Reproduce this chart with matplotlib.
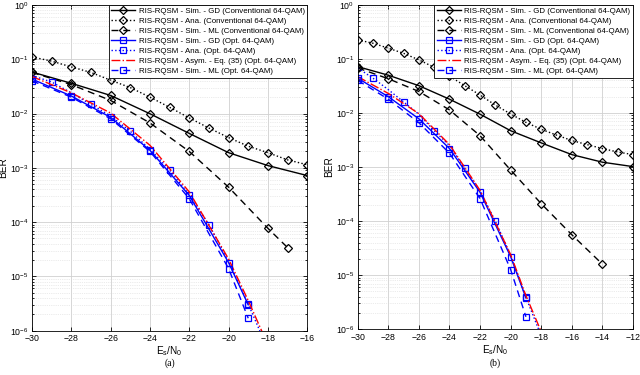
import numpy as np
import matplotlib
matplotlib.use("Agg")
from matplotlib import pyplot as plt
from matplotlib.ticker import NullFormatter, FixedLocator, LogFormatterSciNotation

# ---- data: panel (a) ----
a_x_even = [-30, -28, -26, -24, -22, -20, -18, -16]
a_conv_gd = [0.058, 0.036, 0.0215, 0.0099, 0.0043, 0.0019, 0.0011, 0.00072]
a_conv_ana_x = [-30, -29, -28, -27, -26, -25, -24, -23, -22, -21, -20, -19, -18, -17, -16]
a_conv_ana = [0.11, 0.092, 0.072, 0.057, 0.041, 0.030, 0.020, 0.013, 0.0083, 0.0054,
              0.0036, 0.0025, 0.0019, 0.0014, 0.00114]
a_conv_ml_x = [-30, -28, -26, -24, -22, -20, -18, -17]
a_conv_ml = [0.057, 0.034, 0.0174, 0.0067, 0.0020, 0.00044, 7.7e-5, 3.4e-5]

a_opt_x = [-30, -28, -26, -24, -22, -20, -19]
a_opt_gd = [0.043, 0.021, 0.0085, 0.0021, 3.1e-4, 1.8e-5, 3.0e-6]
a_opt_ml = [0.040, 0.020, 0.0080, 0.0020, 2.7e-4, 1.4e-5, 1.7e-6]
a_ana_x = [-30, -29, -28, -27, -26, -25, -24, -23, -22, -21, -20, -19, -18]
a_opt_ana = [0.050, 0.038, 0.024, 0.0147, 0.0090, 0.0047, 0.0022, 0.00091, 3.2e-4,
             9.0e-5, 1.9e-5, 3.1e-6, 4.5e-7]
a_asym_x = [-30, -28, -26, -24, -22, -20, -19, -18]
a_asym = [0.048, 0.024, 0.0102, 0.0026, 3.6e-4, 2.1e-5, 3.6e-6, 5.5e-7]

# ---- panel (b) ----
b_x_even = [-30, -28, -26, -24, -22, -20, -18, -16, -14, -12]
b_conv_gd = [0.072, 0.050, 0.032, 0.018, 0.0095, 0.0047, 0.0028, 0.0017, 0.00123, 0.00102]
b_conv_ana_x = list(range(-30, -11))
b_conv_ana = [0.225, 0.195, 0.158, 0.127, 0.096, 0.070, 0.048, 0.032, 0.0215, 0.014,
              0.0096, 0.0067, 0.0050, 0.0039, 0.0031, 0.0026, 0.0022, 0.0019, 0.0017]
b_conv_ml_x = [-30, -28, -26, -24, -22, -20, -18, -16, -14]
b_conv_ml = [0.068, 0.043, 0.025, 0.0114, 0.0038, 0.00088, 2.1e-4, 5.6e-5, 1.6e-5]

b_opt_x = [-30, -28, -26, -24, -22, -20, -19]
b_opt_gd = [0.044, 0.020, 0.0078, 0.0022, 3.4e-4, 2.2e-5, 3.8e-6]
b_opt_ml = [0.040, 0.018, 0.0066, 0.0018, 2.6e-4, 1.27e-5, 1.7e-6]
b_ana_x = [-30, -29, -28, -27, -26, -25, -24, -23, -22, -21, -20, -19, -18]
b_opt_ana = [0.068, 0.044, 0.027, 0.016, 0.0095, 0.0047, 0.0025, 0.00095, 3.6e-4,
             1.0e-4, 2.3e-5, 3.9e-6, 7.5e-7]
b_asym_x = [-30, -28, -26, -24, -22, -20, -19, -18]
b_asym = [0.047, 0.023, 0.0097, 0.0026, 3.7e-4, 2.4e-5, 4.2e-6, 9.0e-7]

y_decades = [1e-6, 1e-5, 1e-4, 1e-3, 1e-2, 1e-1, 1e0]

labels = [
    "RIS-RQSM - Sim. - GD (Conventional 64-QAM)",
    "RIS-RQSM - Ana. (Conventional 64-QAM)",
    "RIS-RQSM - Sim. - ML (Conventional 64-QAM)",
    "RIS-RQSM - Sim. - GD (Opt. 64-QAM)",
    "RIS-RQSM - Ana. (Opt. 64-QAM)",
    "RIS-RQSM - Asym. - Eq. (35) (Opt. 64-QAM)",
    "RIS-RQSM - Sim. - ML (Opt. 64-QAM)",
]

plt.rcParams["font.family"] = ["Liberation Sans", "DejaVu Sans"]
plt.rcParams["mathtext.fontset"] = "custom"
plt.rcParams["mathtext.rm"] = "Liberation Sans"
plt.rcParams["mathtext.it"] = "Liberation Sans"

BLUE = "#0000ff"
dia = dict(marker="D", markersize=4.2, markerfacecolor="none", markeredgewidth=0.9)
sq = dict(marker="s", markersize=4.0, markerfacecolor="none", markeredgewidth=0.9)


def panel(ax, d, xmax, caption):
    (x_even, conv_gd, conv_ana_x, conv_ana, conv_ml_x, conv_ml, opt_x, opt_gd, opt_ml,
     ana_x, opt_ana, asym_x, asym) = d
    ax.plot(x_even, conv_gd, "-", color="k", lw=1.0, **dia)
    ax.plot(conv_ana_x, conv_ana, ":", color="k", lw=1.0, **dia)
    ax.plot(conv_ml_x, conv_ml, "--", color="k", lw=1.0, dashes=(5, 3.5), **dia)
    ax.plot(opt_x, opt_gd, "-", color=BLUE, lw=1.0, **sq)
    ax.plot(ana_x, opt_ana, ":", color=BLUE, lw=1.0, markevery=list(range(1, len(ana_x) - 1, 2)), **sq)
    ax.plot(asym_x, asym, "-.", color="red", lw=1.0)
    ax.plot(opt_x, opt_ml, "--", color=BLUE, lw=1.0, dashes=(5, 3.5), **sq)

    ax.set_yscale("log")
    ax.set_xlim(-30, xmax)
    ax.set_ylim(1e-6, 1)
    ax.xaxis.set_major_locator(FixedLocator(list(range(-30, xmax + 1, 2))))
    ax.yaxis.set_major_locator(FixedLocator(y_decades))
    ax.yaxis.set_major_formatter(LogFormatterSciNotation())
    minors = [m * 10.0 ** e for e in range(-6, 0) for m in range(2, 10)]
    ax.yaxis.set_minor_locator(FixedLocator(minors))
    ax.yaxis.set_minor_formatter(NullFormatter())
    ax.grid(True, which="major", color="#d0d0d0", lw=0.6)
    ax.grid(True, which="minor", axis="y", color="#d8d8d8", lw=0.5, linestyle=":")
    ax.set_axisbelow(True)
    ax.tick_params(which="both", direction="in", top=True, right=True, labelsize=6.3,
                   width=0.6, length=3, pad=2.5)
    ax.tick_params(which="minor", length=1.5)
    for s in ax.spines.values():
        s.set_linewidth(0.6)
    ax.set_xlabel(r"E$_\mathrm{s}$/N$_0$", fontsize=7.2, labelpad=1)
    ax.set_ylabel("BER", fontsize=7.2, labelpad=1)
    leg = ax.legend(labels, loc="upper right", borderaxespad=0, fontsize=5.7,
                    fancybox=False, framealpha=1, edgecolor="k", handlelength=3.0,
                    handletextpad=0.5, labelspacing=0.32, borderpad=0.3)
    leg.get_frame().set_linewidth(0.6)
    pos = ax.get_position()
    ax.figure.text((pos.x0 + pos.x1) / 2, 0.018, caption, ha="center", va="bottom",
                   fontsize=7, family="Liberation Serif")


fig = plt.figure(figsize=(6.4, 3.75), dpi=100)
ax1 = fig.add_axes([0.05, 0.118, 0.43, 0.869])
ax2 = fig.add_axes([0.559, 0.122, 0.43, 0.865])

panel(ax1, (a_x_even, a_conv_gd, a_conv_ana_x, a_conv_ana, a_conv_ml_x, a_conv_ml,
            a_opt_x, a_opt_gd, a_opt_ml, a_ana_x, a_opt_ana, a_asym_x, a_asym), -16, "(a)")
panel(ax2, (b_x_even, b_conv_gd, b_conv_ana_x, b_conv_ana, b_conv_ml_x, b_conv_ml,
            b_opt_x, b_opt_gd, b_opt_ml, b_ana_x, b_opt_ana, b_asym_x, b_asym), -12, "(b)")

fig.savefig("out.png", dpi=100)
